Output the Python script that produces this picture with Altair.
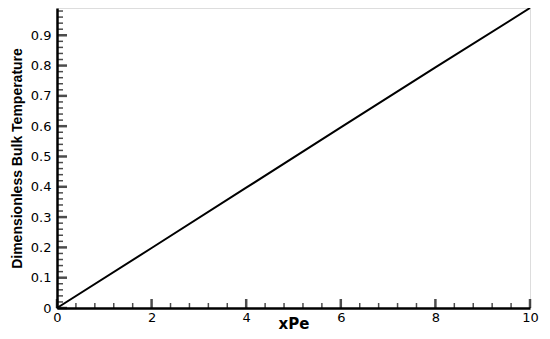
import altair as alt
import pandas as pd

# data
line_x = [0, 2, 4, 6, 8, 10]
line_y = [0.0, 0.198, 0.397, 0.596, 0.794, 0.99]

x_major = [0, 2, 4, 6, 8, 10]
x_minor = [0.4, 0.8, 1.2, 1.6, 2.4, 2.8, 3.2, 3.6, 4.4, 4.8, 5.2, 5.6,
           6.4, 6.8, 7.2, 7.6, 8.4, 8.8, 9.2, 9.6]
y_major = [0, 0.1, 0.2, 0.3, 0.4, 0.5, 0.6, 0.7, 0.8, 0.9]
y_minor = [0.02, 0.04, 0.06, 0.08, 0.12, 0.14, 0.16, 0.18, 0.22, 0.24, 0.26, 0.28,
           0.32, 0.34, 0.36, 0.38, 0.42, 0.44, 0.46, 0.48, 0.52, 0.54, 0.56, 0.58,
           0.62, 0.64, 0.66, 0.68, 0.72, 0.74, 0.76, 0.78, 0.82, 0.84, 0.86, 0.88,
           0.92, 0.94, 0.96, 0.98]

W, H = 473, 300
FONT = "Liberation Sans"
LFONT = "DejaVu Sans"

xs = alt.Scale(domain=[0, 10], nice=False, zero=False)
ys = alt.Scale(domain=[0, 0.99], nice=False, zero=False)

x_axis = alt.Axis(
    title="xPe", values=x_major, ticks=False, grid=False, domainWidth=2.5,
    domainColor="black", labelColor="black", labelFont=LFONT, labelFontSize=13,
    labelPadding=3, labelOverlap=False, titleFont=LFONT, titleFontSize=15,
    titleFontWeight="bold", titleColor="black", titleBaseline="bottom",
    titleY=23, labelFlush=False)
y_axis = alt.Axis(
    title="Dimensionless Bulk Temperature", values=y_major, ticks=False, grid=False,
    domainWidth=2.5, domainColor="black", labelColor="black", labelFont=LFONT,
    labelFontSize=13, labelPadding=6, labelOverlap=False, titleFont=FONT,
    titleFontSize=14, titleFontWeight="bold", titleColor="black", titlePadding=6,
    labelFlush=False,
    labelExpr="datum.value == 0 ? '0' : format(datum.value, '.1f')")

df = pd.DataFrame({"x": line_x, "y": line_y})

base_line = alt.Chart(df).mark_line(color="black", strokeWidth=2).encode(
    x=alt.X("x:Q", scale=xs, axis=x_axis),
    y=alt.Y("y:Q", scale=ys, axis=y_axis),
)

xmaj = alt.Chart(pd.DataFrame({"x": x_major})).mark_tick(
    color="black", thickness=2.5, size=9, orient="vertical").encode(
    x=alt.X("x:Q", scale=xs, axis=x_axis), y=alt.value(H - 4.5))
xmin = alt.Chart(pd.DataFrame({"x": x_minor})).mark_tick(
    color="black", thickness=1.5, size=5, orient="vertical").encode(
    x=alt.X("x:Q", scale=xs, axis=x_axis), y=alt.value(H - 2.5))
ymaj = alt.Chart(pd.DataFrame({"y": y_major})).mark_tick(
    color="black", thickness=2.5, size=10, orient="horizontal").encode(
    y=alt.Y("y:Q", scale=ys, axis=y_axis), x=alt.value(5))
ymin = alt.Chart(pd.DataFrame({"y": y_minor})).mark_tick(
    color="black", thickness=1.5, size=6, orient="horizontal").encode(
    y=alt.Y("y:Q", scale=ys, axis=y_axis), x=alt.value(3))

chart = alt.layer(base_line, xmin, xmaj, ymin, ymaj).properties(
    width=W, height=H,
    autosize=alt.AutoSizeParams(type="none"),
    padding={"left": 49, "top": 0, "right": 12, "bottom": 23},
).configure_view(stroke=None).configure(background="white")

chart.save("out.html", embed_options={"renderer": "svg", "actions": False})
